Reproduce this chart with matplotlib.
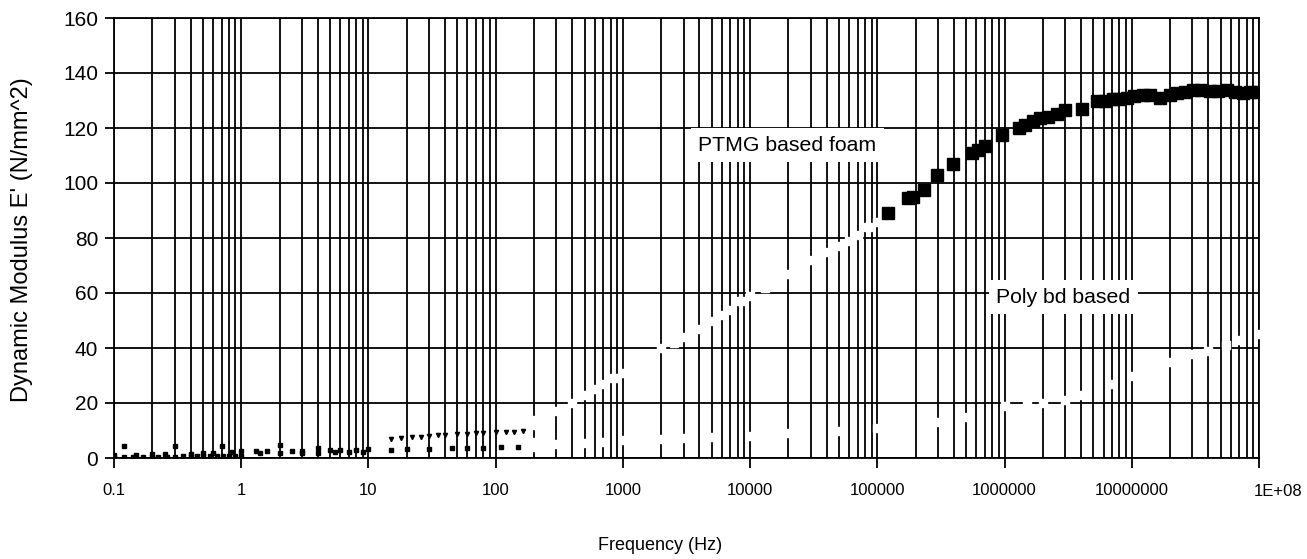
import matplotlib
matplotlib.use("Agg")
import matplotlib.pyplot as plt
from matplotlib.ticker import LogLocator, FixedLocator, NullFormatter
import numpy as np

plt.rcParams['font.family'] = ['Liberation Sans', 'DejaVu Sans']

# PTMG based foam, low frequency part (small dark marks)
ptmg_low_f = [0.1, 0.12, 0.15, 0.2, 0.25, 0.3, 0.4, 0.5, 0.6, 0.7, 0.85, 1.0,
              1.3, 1.6, 2.0, 2.5, 3.0, 4.0, 5.0, 6.0, 8.0, 10.0]
ptmg_low_v = [1.0, 4.4, 1.2, 1.4, 1.5, 4.3, 1.6, 1.8, 2.0, 4.5, 2.2, 2.4,
              2.4, 2.5, 4.7, 2.6, 2.7, 3.6, 2.8, 2.9, 3.0, 3.2]
ptmg_mid_f = [15, 18, 22, 26, 30, 35, 40, 50, 60, 70, 80, 100, 120, 140, 165]
ptmg_mid_v = [7.0, 7.2, 7.5, 7.8, 8.0, 8.2, 8.4, 8.6, 8.8, 9.0, 9.1, 9.3, 9.5, 9.6, 9.8]
# PTMG, middle part (white marks)
ptmg_white_f = [200, 200, 250, 300, 400, 500, 600, 700, 850, 1000, 1300, 1600,
                2000, 2500, 3000, 4000, 5000, 6000, 7000, 8500, 10000, 13000,
                16000, 20000, 25000, 30000, 40000, 50000, 60000, 70000, 85000,
                100000]
ptmg_white_v = [12, 14, 15, 17, 20, 23, 25, 27, 29, 31, 34, 37,
                40, 42, 44, 47, 50, 52, 54, 57, 59, 62,
                64, 67, 69, 72, 75, 77, 79, 81, 84,
                86]
# PTMG, high frequency part (black squares)
ptmg_high_f = [1.22e5, 1.75e5, 1.9e5, 2.33e5, 2.95e5, 3.94e5, 5.56e5, 6.2e5, 7.04e5,
               9.58e5, 1.30e6, 1.45e6, 1.68e6, 1.9e6, 2.2e6, 2.6e6, 3.0e6, 4.08e6,
               5.35e6, 6.2e6, 7.1e6, 8.0e6, 9.2e6, 1.05e7, 1.23e7, 1.4e7, 1.67e7,
               2.0e7, 2.27e7, 2.6e7, 3.04e7, 3.5e7, 4.13e7, 4.8e7, 5.6e7, 6.5e7,
               7.5e7, 8.5e7, 9.8e7]
ptmg_high_v = [89, 94.5, 95, 97.5, 103, 107, 111, 112, 113.5,
               117.5, 120, 121, 122.5, 123.5, 124, 125, 126.5, 127,
               130, 130, 130.5, 130.5, 131, 131.5, 132, 132, 131,
               132, 132.7, 133, 133.8, 133.8, 133.5, 133.6, 133.8, 133,
               132.7, 133, 133]

# Poly bd based
polybd_low_f = [0.1, 0.12, 0.14, 0.17, 0.2, 0.22, 0.26, 0.3, 0.35, 0.4, 0.45,
                0.5, 0.57, 0.65, 0.72, 0.8, 0.9, 1.0, 1.4,
                2.0, 3.0, 4.0, 5.5, 7.0, 9.0, 15, 20, 30, 45, 60, 80, 110, 150]
polybd_low_v = [0.4, 0.4, 0.4, 0.5, 0.5, 0.5, 0.5, 0.5, 0.6, 0.6, 0.6,
                0.6, 0.6, 0.6, 0.7, 0.7, 0.7, 0.7, 1.8,
                1.9, 2.0, 2.0, 2.1, 2.2, 2.3, 3.0, 3.2, 3.3, 3.5, 3.6, 3.8, 3.9, 4.0]
polybd_white_f = [200, 200, 300, 500, 700, 1000, 2000, 3000, 5000, 10000, 20000,
                  50000, 100000, 150000, 300000, 500000, 1.0e6, 1.5e6, 2.0e6,
                  3.0e6, 4.0e6, 7.0e6, 1.0e7, 1.5e7, 2.0e7, 3.0e7, 4.0e7, 5.5e7,
                  7.0e7, 1.0e8]
polybd_white_v = [4, 6, 5, 5.5, 6, 6.5, 7, 7.3, 7.6, 8, 9,
                  10, 11, 12, 13, 15, 19, 19.5, 20,
                  21, 23, 27, 30, 32, 35, 38, 39, 41,
                  43, 45]

xtick_vals = [0.1, 1, 10, 100, 1000, 10000, 100000, 1000000, 10000000, 100000000]
xtick_labels = ['0.1', '1', '10', '100', '1000', '10000', '100000', '1000000',
                '10000000', '']
ytick_vals = [0, 20, 40, 60, 80, 100, 120, 140, 160]

fig = plt.figure(figsize=(13.07, 5.59), dpi=100)
ax = fig.add_axes([114 / 1307, (559 - 458) / 559, (1259 - 114) / 1307, (458 - 18) / 559])

ax.set_xscale('log')
ax.set_xlim(0.1, 1e8)
ax.set_ylim(0, 160)

ax.xaxis.set_major_locator(FixedLocator(xtick_vals))
ax.xaxis.set_minor_locator(LogLocator(base=10, subs=np.arange(2, 10), numticks=30))
ax.xaxis.set_minor_formatter(NullFormatter())
ax.set_xticklabels(xtick_labels)
ax.set_yticks(ytick_vals)

ax.grid(True, which='both', axis='x', color='black', lw=1.3)
ax.grid(True, which='major', axis='y', color='black', lw=1.3)
ax.set_axisbelow(True)
for s in ax.spines.values():
    s.set_linewidth(1.3)
    s.set_color('black')

ax.tick_params(axis='x', which='major', direction='out', length=7, width=1.3,
               pad=11, labelsize=12)
ax.tick_params(axis='x', which='minor', length=0)
ax.tick_params(axis='y', direction='out', length=6.5, width=1.3, pad=5, labelsize=15)

# series
ax.plot(ptmg_low_f, ptmg_low_v, ls='none', marker='s', ms=2.5, color='black', zorder=3)
ax.plot(polybd_low_f, polybd_low_v, ls='none', marker='s', ms=2.5, color='black', zorder=3)
ax.plot(ptmg_mid_f, ptmg_mid_v, ls='none', marker='v', ms=3, color='black', zorder=3)
ax.plot(ptmg_white_f, ptmg_white_v, ls='none', marker='s', ms=5.5, color='white',
        mec='white', zorder=3)
ax.plot(polybd_white_f, polybd_white_v, ls='none', marker='s', ms=5.5, color='white',
        mec='white', zorder=3)
ax.plot(ptmg_high_f, ptmg_high_v, ls='none', marker='s', ms=8.5, color='black', zorder=3)

ax.text(1.95e4, 113.8, 'PTMG based foam', fontsize=15.3, ha='center', va='center',
        bbox=dict(boxstyle='square,pad=0.35', fc='white', ec='none'), zorder=4)
ax.text(2.89e6, 58.5, 'Poly bd based', fontsize=15.3, ha='center', va='center',
        bbox=dict(boxstyle='square,pad=0.35', fc='white', ec='none'), zorder=4)

fig.text(1278 / 1307, 1 - 491 / 559, '1E+08', fontsize=12, ha='center', va='center')
fig.text(660 / 1307, 1 - 545 / 559, 'Frequency (Hz)', fontsize=13, ha='center', va='center')
fig.text(22 / 1307, 1 - 240 / 559, "Dynamic Modulus E' (N/mm^2)", fontsize=17,
         ha='center', va='center', rotation=90)

fig.savefig('out.png', dpi=100)
